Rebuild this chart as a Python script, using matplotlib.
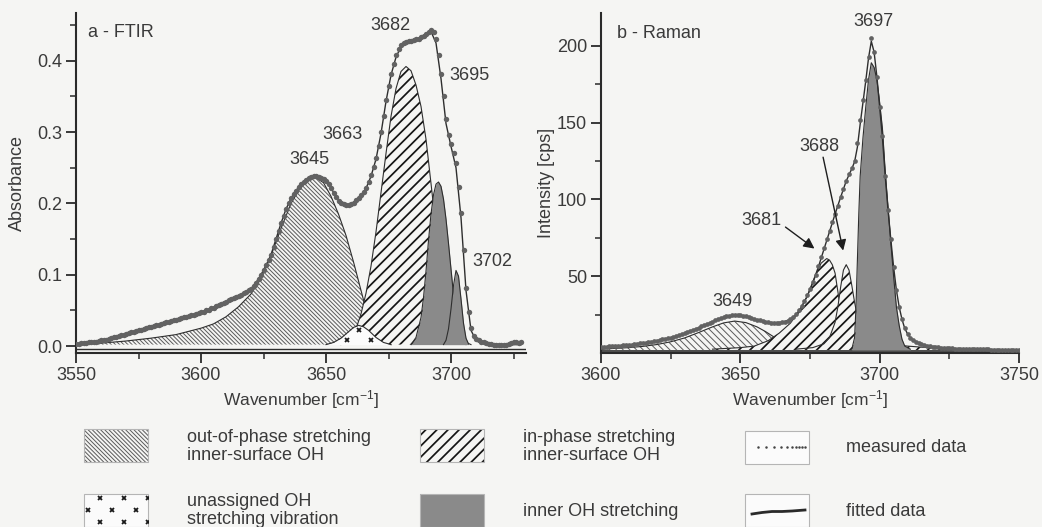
import matplotlib
matplotlib.use('Agg')
import matplotlib.pyplot as plt
from matplotlib.patches import Rectangle
from matplotlib.ticker import FixedLocator, FormatStrFormatter

plt.rcParams['font.family'] = ['Liberation Sans', 'DejaVu Sans']
plt.rcParams['mathtext.fontset'] = 'custom'
plt.rcParams['mathtext.rm'] = 'Liberation Sans'
plt.rcParams['mathtext.it'] = 'Liberation Sans:italic'
plt.rcParams['hatch.linewidth'] = 0.9

# ------------------------------------------------------------------ data
# ---- (a) FTIR ----
ftir_wn = list(range(3550, 3729))
ftir_measured = [
    0.003, 0.003, 0.004, 0.004, 0.004, 0.005, 0.005, 0.006, 0.006, 0.007,
    0.008, 0.008, 0.009, 0.010, 0.011, 0.012, 0.013, 0.014, 0.015, 0.016,
    0.017, 0.018, 0.019, 0.020, 0.021, 0.022, 0.023, 0.024, 0.025, 0.026,
    0.027, 0.028, 0.029, 0.030, 0.031, 0.032, 0.033, 0.034, 0.035, 0.036,
    0.037, 0.038, 0.039, 0.040, 0.041, 0.042, 0.043, 0.044, 0.045, 0.046,
    0.047, 0.048, 0.050, 0.051, 0.053, 0.054, 0.056, 0.057, 0.059, 0.060,
    0.062, 0.064, 0.066, 0.067, 0.069, 0.070, 0.072, 0.074, 0.076, 0.078,
    0.080, 0.084, 0.089, 0.094, 0.100, 0.106, 0.113, 0.120, 0.128, 0.139,
    0.150, 0.161, 0.172, 0.182, 0.192, 0.200, 0.207, 0.213, 0.218, 0.223,
    0.227, 0.230, 0.233, 0.235, 0.237, 0.238, 0.238, 0.237, 0.236, 0.234,
    0.232, 0.227, 0.222, 0.215, 0.209, 0.204, 0.201, 0.199, 0.198, 0.198,
    0.199, 0.201, 0.205, 0.208, 0.212, 0.216, 0.222, 0.230, 0.240, 0.251,
    0.264, 0.281, 0.300, 0.322, 0.345, 0.365, 0.382, 0.396, 0.408, 0.416,
    0.422, 0.425, 0.427, 0.428, 0.428, 0.429, 0.430, 0.431, 0.433, 0.435,
    0.437, 0.440, 0.443, 0.441, 0.430, 0.408, 0.382, 0.350, 0.318, 0.296,
    0.283, 0.270, 0.256, 0.223, 0.186, 0.134, 0.082, 0.048, 0.025, 0.014,
    0.010, 0.008, 0.006, 0.005, 0.004, 0.003, 0.003, 0.002, 0.002, 0.002,
    0.001, 0.001, 0.002, 0.003, 0.004, 0.005, 0.005, 0.004, 0.005,
]
ftir_fit_wn = list(range(3550, 3729, 2))
ftir_fit = [
    0.003, 0.004, 0.004, 0.005, 0.006, 0.008, 0.009, 0.011, 0.013, 0.015,
    0.017, 0.019, 0.021, 0.023, 0.025, 0.027, 0.029, 0.031, 0.033, 0.035,
    0.037, 0.039, 0.041, 0.043, 0.045, 0.047, 0.050, 0.053, 0.056, 0.059,
    0.062, 0.066, 0.069, 0.072, 0.076, 0.080, 0.089, 0.100, 0.113, 0.128,
    0.150, 0.172, 0.192, 0.207, 0.218, 0.227, 0.233, 0.236, 0.237, 0.235,
    0.231, 0.222, 0.209, 0.201, 0.198, 0.199, 0.204, 0.211, 0.221, 0.238,
    0.262, 0.298, 0.343, 0.380, 0.405, 0.420, 0.426, 0.428, 0.430, 0.433,
    0.437, 0.441, 0.425, 0.375, 0.312, 0.280, 0.250, 0.180, 0.078, 0.022,
    0.008, 0.004, 0.003, 0.002, 0.002, 0.002, 0.002, 0.002, 0.002, 0.002,
]
# component bands (FTIR)
ftir_oop_wn = [3550, 3560, 3570, 3580, 3590, 3600, 3605, 3610, 3615, 3620, 3624,
               3628, 3632, 3636, 3640, 3643, 3646, 3649, 3652, 3655, 3658, 3661,
               3664, 3667, 3670, 3673, 3676]
ftir_oop = [0.002, 0.004, 0.007, 0.011, 0.016, 0.025, 0.031, 0.041, 0.055, 0.073,
            0.095, 0.127, 0.165, 0.200, 0.224, 0.234, 0.236, 0.229, 0.210, 0.185,
            0.155, 0.118, 0.078, 0.038, 0.012, 0.004, 0.002]
ftir_unas_wn = [3650, 3653, 3656, 3659, 3661, 3663, 3665, 3667, 3670, 3673, 3676]
ftir_unas = [0.002, 0.005, 0.011, 0.020, 0.026, 0.029, 0.027, 0.022, 0.012, 0.005, 0.002]
ftir_inph_wn = list(range(3656, 3709, 2))
ftir_inph = [0.002, 0.005, 0.012, 0.024, 0.045, 0.074, 0.112, 0.160, 0.215, 0.270,
             0.322, 0.361, 0.385, 0.392, 0.386, 0.366, 0.336, 0.290, 0.228, 0.165,
             0.112, 0.072, 0.043, 0.023, 0.011, 0.005, 0.002]
ftir_inner1_wn = [3684, 3686, 3688, 3689, 3690, 3691, 3692, 3693, 3694, 3695, 3696,
                  3697, 3698, 3699, 3700, 3701, 3702, 3703, 3704, 3706]
ftir_inner1 = [0.002, 0.012, 0.040, 0.068, 0.105, 0.148, 0.185, 0.212, 0.227, 0.230,
               0.224, 0.206, 0.178, 0.144, 0.108, 0.072, 0.042, 0.020, 0.008, 0.002]
ftir_inner2_wn = list(range(3697, 3708))
ftir_inner2 = [0.002, 0.008, 0.024, 0.052, 0.085, 0.106, 0.098, 0.066, 0.032, 0.011, 0.003]
ftir_baseline = 0.002
ftir_zero_line = -0.004
ftir_peak_labels = ['3645', '3663', '3682', '3695', '3702']

# ---- (b) Raman ----
raman_wn = list(range(3600, 3751))
raman_measured = [
    4.0, 4.1, 4.2, 4.3, 4.4, 4.5, 4.7, 4.8, 5.0, 5.1,
    5.3, 5.5, 5.7, 6.0, 6.2, 6.5, 6.8, 7.1, 7.4, 7.7,
    8.0, 8.4, 8.8, 9.2, 9.6, 10.0, 10.5, 11.1, 11.7, 12.3,
    13.0, 13.7, 14.4, 15.1, 15.8, 16.5, 17.3, 18.1, 18.9, 19.7,
    20.5, 21.3, 22.0, 22.7, 23.3, 23.8, 24.2, 24.5, 24.6, 24.6,
    24.5, 24.3, 23.9, 23.4, 22.9, 22.3, 21.7, 21.2, 20.7, 20.3,
    20.0, 19.8, 19.6, 19.6, 19.7, 19.9, 20.4, 21.1, 22.1, 23.5,
    25.3, 27.7, 30.5, 34.0, 37.8, 41.5, 46.0, 51.0, 56.5, 62.5,
    68.5, 74.0, 79.5, 85.0, 90.5, 96.0, 101.5, 107.0, 112.0, 116.5,
    120.5, 125.0, 136.5, 152.0, 165.0, 178.0, 193.0, 205.0, 196.0, 180.0,
    160.0, 141.0, 115.0, 93.0, 74.0, 56.0, 41.0, 30.0, 22.0, 16.0,
    12.5, 10.0, 8.5, 7.3, 6.4, 5.7, 5.1, 4.7, 4.3, 4.0,
    3.8, 3.6, 3.5, 3.3, 3.2, 3.1, 3.0, 2.9, 2.8, 2.8,
    2.7, 2.6, 2.6, 2.5, 2.5, 2.4, 2.4, 2.3, 2.3, 2.3,
    2.2, 2.2, 2.2, 2.1, 2.1, 2.1, 2.0, 2.0, 2.0, 2.0, 2.0,
]
raman_fit_wn = list(range(3600, 3691, 2)) + list(range(3691, 3713)) + list(range(3714, 3751, 2))
raman_fit = [
    3.8, 4.0, 4.2, 4.5, 4.8, 5.2, 5.6, 6.1, 6.6, 7.2,
    7.9, 8.7, 9.5, 10.4, 11.5, 12.8, 14.2, 15.6, 17.1, 18.7,
    20.2, 21.7, 23.0, 23.9, 24.3, 24.2, 23.6, 22.6, 21.5, 20.6,
    20.0, 19.7, 19.8, 20.5, 22.0, 25.0, 30.0, 37.0, 45.5, 56.0,
    67.5, 79.0, 90.5, 101.5, 112.0, 120.0,
    124.5, 134.0, 149.0, 163.0, 177.0, 192.0, 203.0, 196.0, 180.0, 160.0,
    140.0, 115.0, 93.0, 74.0, 56.0, 41.0, 30.0, 22.0, 16.0, 12.5, 10.0, 8.5,
    6.4, 5.1, 4.3, 3.8, 3.5, 3.2, 3.0, 2.8, 2.7, 2.6, 2.5, 2.4, 2.3, 2.2,
    2.2, 2.1, 2.0, 2.0, 2.0,
]
raman_oop_wn = [3600, 3610, 3615, 3620, 3625, 3630, 3635, 3640, 3644, 3648, 3652,
                3656, 3659, 3662, 3665, 3668, 3672, 3676]
raman_oop = [2.5, 3.5, 4.3, 5.5, 7.3, 9.8, 13.3, 17.0, 19.6, 20.8, 19.8, 17.0,
             14.0, 10.5, 6.8, 4.2, 2.8, 2.3]
raman_inph1_wn = [3640, 3650, 3655, 3660, 3664, 3668, 3671, 3674, 3677, 3679, 3681,
                  3682, 3683, 3684, 3685, 3686, 3687, 3689, 3692, 3696, 3700, 3706,
                  3712, 3720, 3730]
raman_inph1 = [2.5, 3.5, 4.5, 8.0, 13.0, 19.5, 27.0, 37.0, 51.0, 58.5, 61.5, 60.5,
               57.5, 52.0, 40.0, 28.0, 20.0, 13.0, 9.0, 6.5, 5.0, 4.0, 3.2, 2.6, 2.2]
raman_inph2_wn = [3670, 3676, 3680, 3682, 3684, 3685, 3686, 3687, 3688, 3689, 3690,
                  3691, 3692, 3694, 3697, 3700, 3705, 3710, 3715, 3720, 3725, 3735]
raman_inph2 = [2.5, 3.5, 6.0, 10.0, 20.0, 30.0, 43.0, 54.0, 57.5, 54.0, 44.0, 33.0,
               24.0, 14.0, 9.0, 7.0, 5.5, 4.5, 3.8, 3.2, 2.8, 2.3]
raman_inner_wn = [3690, 3691, 3691.5, 3692, 3692.5, 3693, 3694, 3695, 3696, 3697,
                  3698, 3699, 3700, 3701, 3702, 3703, 3704, 3705, 3706, 3707, 3708,
                  3709, 3711]
raman_inner = [2.5, 10, 30, 60, 90, 115, 140, 160, 178, 189, 186, 178, 163, 146,
               118, 95, 72, 50, 30, 18, 9, 4.5, 2.5]
raman_baseline = 2.0
raman_zero_line = 1.0
raman_peak_labels = ['3649', '3681', '3688', '3697']

legend_labels = [
    ['out-of-phase stretching', 'inner-surface OH'],
    ['in-phase stretching', 'inner-surface OH'],
    ['measured data'],
    ['unassigned OH', 'stretching vibration'],
    ['inner OH stretching'],
    ['fitted data'],
]

# ------------------------------------------------------------------ style
BG = '#f5f5f3'
TXT = '#3a3a3a'
AX = '#2a2a2a'
GRAY = '#8a8a8a'
DOT = '#626262'
LINE = '#2e2e2e'
OOP_HATCH = '\\' * 8
OOP_HATCH_B = '\\' * 5
INPH_HATCH = '///'
OOP_COL = '#5a5a5a'
INPH_COL = '#141414'
OOP_LW = 0.7
INPH_LW = 1.25
FS = 13

fig = plt.figure(figsize=(10.42, 5.27), dpi=100, facecolor=BG)


def set_hlw(artist, lw):
    if hasattr(artist, 'set_hatch_linewidth'):
        artist.set_hatch_linewidth(lw)


def style_axes(ax):
    ax.set_facecolor(BG)
    for s in ('top', 'right'):
        ax.spines[s].set_visible(False)
    for s in ('left', 'bottom'):
        ax.spines[s].set_color(AX)
        ax.spines[s].set_linewidth(1.5)
    ax.tick_params(which='major', direction='out', length=7, width=1.3,
                   color=AX, labelsize=FS, labelcolor=TXT, pad=3)
    ax.tick_params(which='minor', direction='out', length=4, width=1.1, color=AX)


def band(ax, x, y, base, hatch=None, face=BG, hatchcolor='#222', z=2, lw=0.8, hlw=0.9):
    plt.rcParams['hatch.linewidth'] = hlw
    coll = ax.fill_between(x, y, base, facecolor=face, edgecolor=hatchcolor,
                           hatch=hatch, linewidth=0, zorder=z)
    set_hlw(coll, hlw)
    ax.plot(x, y, color=LINE, lw=lw, zorder=z + 0.1)
    return coll


def cross_pattern(x0, x1, y0, y1, dx, dy):
    """Staggered grid used as a fill texture (pattern, not data)."""
    xs, ys = [], []
    row = 0
    y = y0
    while y <= y1:
        x = x0 + (dx / 2) * (row % 2)
        while x <= x1:
            xs.append(x)
            ys.append(y)
            x += dx
        y += dy
        row += 1
    return xs, ys


# ---------------- panel a
axa = fig.add_axes([76 / 1042, 174 / 527, 450 / 1042, 340 / 527])
style_axes(axa)
axa.set_xlim(3550, 3730)
axa.set_ylim(-0.0098, 0.467)
axa.xaxis.set_major_locator(FixedLocator([3550, 3600, 3650, 3700]))
axa.xaxis.set_minor_locator(FixedLocator([3575, 3625, 3675, 3725]))
axa.yaxis.set_major_locator(FixedLocator([0.0, 0.1, 0.2, 0.3, 0.4]))
axa.yaxis.set_minor_locator(FixedLocator([0.05, 0.15, 0.25, 0.35, 0.45]))
axa.yaxis.set_major_formatter(FormatStrFormatter('%.1f'))

axa.axhline(ftir_zero_line, color=LINE, lw=1.0, zorder=1)
band(axa, ftir_oop_wn, ftir_oop, ftir_baseline, hatch=OOP_HATCH, hatchcolor=OOP_COL, z=2, hlw=OOP_LW)
band(axa, ftir_inph_wn, ftir_inph, ftir_baseline, hatch=INPH_HATCH, hatchcolor=INPH_COL, z=3, hlw=INPH_LW)
unas = band(axa, ftir_unas_wn, ftir_unas, ftir_baseline, face='#fbfbfb', z=3.5)
px, py = cross_pattern(3648.7, 3680, 0.0084, 0.04, 9.6, 0.0146)
mk, = axa.plot(px, py, ls='none', marker='x', ms=3.2, mew=1.3, color='#1a1a1a', zorder=3.6)
mk.set_clip_path(unas.get_paths()[0], axa.transData)
band(axa, ftir_inner1_wn, ftir_inner1, ftir_baseline, face=GRAY, z=4)
band(axa, ftir_inner2_wn, ftir_inner2, ftir_baseline, face=GRAY, z=4.5)
axa.plot(ftir_fit_wn, ftir_fit, color=LINE, lw=1.0, zorder=5)
axa.plot(ftir_wn, ftir_measured, ls='none', marker='o', ms=3.9, mfc=DOT, mec='none', zorder=6)

axa.text(3554.8, 0.439, 'a - FTIR', fontsize=FS, color=TXT, ha='left', va='center')
for lab, (x, y) in zip(ftir_peak_labels, [(3643.2, 0.262), (3656.7, 0.296), (3675.6, 0.449),
                                          (3707.4, 0.380), (3716.7, 0.119)]):
    axa.text(x, y, lab, fontsize=FS, color=TXT, ha='center', va='center', zorder=8)

axa.set_xlabel(r'Wavenumber [cm$^{\mathregular{-1}}$]', fontsize=12.5, color=TXT, labelpad=3)
axa.set_ylabel('Absorbance', fontsize=FS, color=TXT, labelpad=8)

# ---------------- panel b
axb = fig.add_axes([601 / 1042, 174 / 527, 418 / 1042, 340 / 527])
style_axes(axb)
axb.set_xlim(3600, 3750)
axb.set_ylim(0, 221.4)
axb.xaxis.set_major_locator(FixedLocator([3600, 3650, 3700, 3750]))
axb.xaxis.set_minor_locator(FixedLocator([3625, 3675, 3725]))
axb.yaxis.set_major_locator(FixedLocator([50, 100, 150, 200]))
axb.yaxis.set_minor_locator(FixedLocator([25, 75, 125, 175]))

axb.axhline(raman_zero_line, color=LINE, lw=1.2, zorder=1)
band(axb, raman_oop_wn, raman_oop, raman_baseline, hatch=OOP_HATCH_B, hatchcolor=OOP_COL, z=2, hlw=OOP_LW)
band(axb, raman_inph1_wn, raman_inph1, raman_baseline, hatch=INPH_HATCH, hatchcolor=INPH_COL, z=3, hlw=INPH_LW)
band(axb, raman_inph2_wn, raman_inph2, raman_baseline, hatch=INPH_HATCH, hatchcolor=INPH_COL, z=3.2, hlw=INPH_LW)
band(axb, raman_inner_wn, raman_inner, raman_baseline, face=GRAY, z=4)
axb.plot(raman_fit_wn, raman_fit, color=LINE, lw=1.0, zorder=5)
axb.plot(raman_wn, raman_measured, ls='none', marker='o', ms=3.4, mfc=DOT, mec='none', zorder=6)

axb.text(3605.6, 208, 'b - Raman', fontsize=FS, color=TXT, ha='left', va='center')
for lab, (x, y) in zip(raman_peak_labels, [(3647, 33.3), (3657.7, 86.5), (3678.4, 134.7),
                                           (3697.7, 215.7)]):
    axb.text(x, y, lab, fontsize=FS, color=TXT, ha='center', va='center', zorder=8)
arrow = dict(arrowstyle='-|>', color='#1e1e1e', lw=1.0, mutation_scale=16, shrinkA=0, shrinkB=0)
axb.annotate('', xy=(3676.6, 68.0), xytext=(3666.2, 82.0), arrowprops=arrow, zorder=8)
axb.annotate('', xy=(3686.9, 66.7), xytext=(3679.7, 127.5), arrowprops=arrow, zorder=8)

axb.set_xlabel(r'Wavenumber [cm$^{\mathregular{-1}}$]', fontsize=12.5, color=TXT, labelpad=3)
axb.set_ylabel('Intensity [cps]', fontsize=FS, color=TXT, labelpad=1)

# ---------------- legend (figure pixel space)
lg = fig.add_axes([0, 0, 1, 1], zorder=-1)
lg.set_xlim(0, 1042)
lg.set_ylim(527, 0)
lg.axis('off')
lg.patch.set_alpha(0)

boxes = [(84, 429, OOP_HATCH, BG, OOP_COL, OOP_LW),
         (420, 429, INPH_HATCH, BG, INPH_COL, INPH_LW),
         (745, 431, None, '#fbfbfb', None, 0.9),
         (84, 494, None, '#fbfbfb', None, 0.9),
         (420, 494, None, GRAY, None, 0.9),
         (745, 494, None, '#fbfbfb', None, 0.9)]
rects = []
for (x0, y0, h, fc, hc, hlw) in boxes:
    plt.rcParams['hatch.linewidth'] = hlw
    r = Rectangle((x0, y0), 64, 33, facecolor=fc, edgecolor=hc if hc else fc,
                  hatch=h, linewidth=0)
    set_hlw(r, hlw)
    lg.add_patch(r)
    rects.append(r)
    lg.add_patch(Rectangle((x0, y0), 64, 33, facecolor='none', edgecolor='#b5b5b5', linewidth=0.8))

lx, ly = cross_pattern(76, 150, 498, 526, 24, 12)
lmk, = lg.plot(lx, ly, ls='none', marker='x', ms=3.2, mew=1.3, color='#1a1a1a')
lmk.set_clip_path(rects[3])

lg.plot([758, 766, 774, 781, 787, 792, 796, 799, 802, 805],
        [447] * 10, ls='none', marker='o', ms=1.8, mfc='#444', mec='none')
lg.plot([752, 762, 772, 782, 792, 805], [514, 512.5, 511.5, 511.5, 511, 510],
        color='#2a2a2a', lw=2.0)

text_x = [187, 523, 846, 187, 523, 846]
text_y = [[437, 455], [437, 455], [447], [502, 520], [512], [512]]
for labs, tx, tys in zip(legend_labels, text_x, text_y):
    for lab, ty in zip(labs, tys):
        lg.text(tx, ty, lab, fontsize=FS, color=TXT, ha='left', va='center')

fig.savefig('out.png', dpi=100, facecolor=BG)
